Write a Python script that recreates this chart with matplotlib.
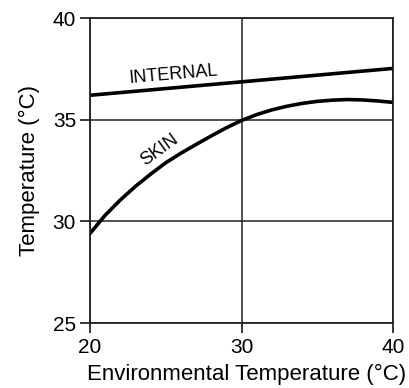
import numpy as np
import matplotlib.pyplot as plt

plt.rcParams['font.family'] = ['Liberation Sans', 'DejaVu Sans']

env_internal = [20, 30, 40]
internal_temp = [36.2, 36.86, 37.52]

env_skin = [20, 21, 22, 23, 24, 25, 26, 27, 28, 29, 30,
            31, 32, 33, 34, 35, 36, 37, 38, 39, 40]
skin_temp = [29.4, 30.3, 31.05, 31.72, 32.32, 32.88, 33.35, 33.78, 34.2, 34.6, 34.96,
             35.25, 35.48, 35.66, 35.8, 35.9, 35.96, 35.99, 35.97, 35.92, 35.85]

xticks = [20, 30, 40]
yticks = [25, 30, 35, 40]

fig = plt.figure(figsize=(4.09, 3.88), dpi=100)
ax = fig.add_axes([90 / 409, 1 - 323 / 388, 303 / 409, 305 / 388])

ax.plot(env_internal, internal_temp, color='black', lw=2.6, solid_capstyle='butt')
ax.plot(env_skin, skin_temp, color='black', lw=2.6, solid_capstyle='butt',
        solid_joinstyle='round')

ax.set_xlim(20, 40)
ax.set_ylim(25, 40)
ax.set_xticks(xticks)
ax.set_yticks(yticks)
ax.grid(True, color='#222222', lw=1.1)
ax.tick_params(direction='out', length=7, width=1.1, labelsize=15, pad=3)
ax.tick_params(axis='x', pad=4)
for s in ax.spines.values():
    s.set_linewidth(1.3)
    s.set_color('#222222')

ax.text(25.5, 37.2, 'INTERNAL', fontsize=13, rotation=5, ha='center', va='center')
ax.text(24.6, 33.5, 'SKIN', fontsize=13, rotation=36, ha='center', va='center')

ax.set_xlabel('Environmental Temperature (°C)', fontsize=16, labelpad=5)
ax.set_ylabel('Temperature (°C)', fontsize=16, labelpad=9)
ax.xaxis.label.set_x(0.518)

fig.savefig('out.png', dpi=100)
